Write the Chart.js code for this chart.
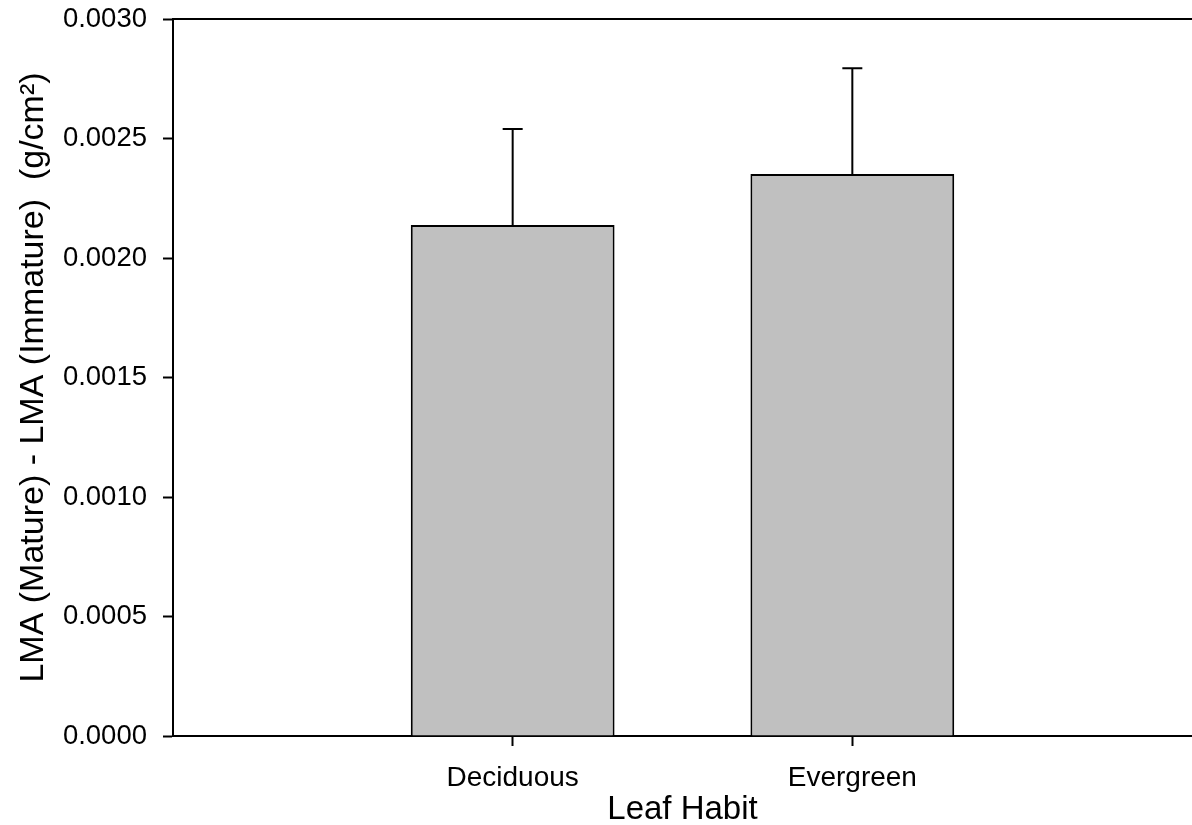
<!DOCTYPE html>
<html>
<head>
<meta charset="utf-8">
<script src="https://cdn.jsdelivr.net/npm/chart.js@4/dist/chart.umd.min.js"></script>
<style>
  body { margin: 0; background: #fff; }
  #wrap { width: 1192px; height: 825px; position: relative; }
</style>
</head>
<body>
<div id="wrap"><canvas id="myChart"></canvas></div>
<script>
const categories = ["Deciduous", "Evergreen"];
const means = [0.002138, 0.002351];
const errors = [0.000402, 0.000443];
const yTicks = [0, 0.0005, 0.001, 0.0015, 0.002, 0.0025, 0.003];

const font = "'Liberation Sans', Arial, sans-serif";

// empty slots at both ends so the two bars sit at 1/3 and 2/3 of the axis
const labels = ["", ...categories, ""];
const barData = [null, ...means, null];
const errData = [null, ...errors, null];

const errorBars = {
  id: "errorBars",
  afterDatasetsDraw(chart) {
    const ctx = chart.ctx;
    const x = chart.scales.x;
    const y = chart.scales.y;
    ctx.save();
    ctx.strokeStyle = "#000";
    ctx.lineWidth = 2;
    barData.forEach((v, i) => {
      if (v == null) return;
      const px = x.getPixelForValue(i);
      const top = y.getPixelForValue(v + errData[i]);
      const base = y.getPixelForValue(v);
      ctx.beginPath();
      ctx.moveTo(px, base);
      ctx.lineTo(px, top);
      ctx.moveTo(px - 10, top);
      ctx.lineTo(px + 10, top);
      ctx.stroke();
    });
    // top frame line
    const a = chart.chartArea;
    ctx.beginPath();
    ctx.moveTo(a.left, a.top);
    ctx.lineTo(chart.width, a.top);
    ctx.stroke();
    ctx.restore();
  }
};

const config = {
  type: "bar",
  data: {
    labels: labels,
    datasets: [{
      data: barData,
      backgroundColor: "#c0c0c0",
      borderColor: "#000",
      borderWidth: 2,
      categoryPercentage: 1,
      barPercentage: 0.6
    }]
  },
  options: {
    responsive: true,
    maintainAspectRatio: false,
    animation: false,
    layout: { padding: { top: 19, right: 0, left: 0, bottom: 0 } },
    plugins: { legend: { display: false }, tooltip: { enabled: false } },
    scales: {
      x: {
        offset: false,
        afterFit: (s) => { s.height = 89; },
        border: { color: "#000", width: 2 },
        grid: {
          offset: false,
          drawOnChartArea: false,
          tickLength: 10,
          tickWidth: 2,
          tickColor: (c) => (c.tick && c.tick.label ? "#000" : "rgba(0,0,0,0)")
        },
        ticks: {
          color: "#000",
          padding: 0,
          maxRotation: 0,
          autoSkip: false,
          font: { family: font, size: 28, lineHeight: 2.3 }
        },
        title: {
          display: true,
          text: "Leaf Habit",
          color: "#000",
          padding: { top: 0, bottom: 0 },
          font: { family: font, size: 33, lineHeight: 0.9 }
        }
      },
      y: {
        min: 0,
        max: 0.003,
        afterFit: (s) => { s.width = 173; },
        afterBuildTicks: (s) => { s.ticks = yTicks.map((v) => ({ value: v })); },
        border: { color: "#000", width: 2 },
        grid: {
          drawOnChartArea: false,
          tickLength: 10,
          tickWidth: 2,
          tickColor: "#000"
        },
        ticks: {
          color: "#000",
          padding: 16,
          font: { family: font, size: 27.5, lineHeight: 0.2 },
          callback: (v) => Number(v).toFixed(4)
        },
        title: {
          display: true,
          text: "LMA (Mature) - LMA (Immature)  (g/cm²)",
          color: "#000",
          padding: { top: 13, bottom: 0 },
          font: { family: font, size: 34 }
        }
      }
    }
  },
  plugins: [errorBars]
};

new Chart(document.getElementById("myChart"), config);
</script>
</body>
</html>
